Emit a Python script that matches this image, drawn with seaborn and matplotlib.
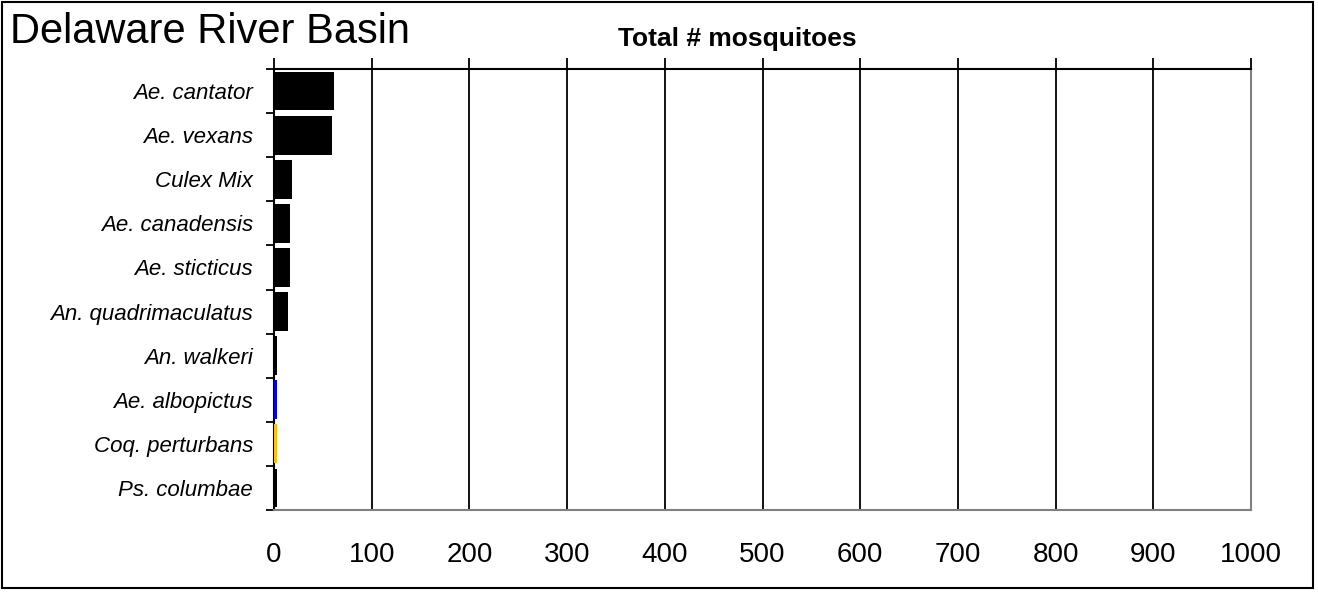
import matplotlib
matplotlib.use("Agg")
import matplotlib.pyplot as plt
import numpy as np
import pandas as pd
import seaborn as sns
from matplotlib.patches import Rectangle

species = [
    "Ae. cantator",
    "Ae. vexans",
    "Culex Mix",
    "Ae. canadensis",
    "Ae. sticticus",
    "An. quadrimaculatus",
    "An. walkeri",
    "Ae. albopictus",
    "Coq. perturbans",
    "Ps. columbae",
]
totals = [61, 59, 18, 16, 16, 14, 3, 3, 3, 3]
bar_colors = ["black"] * 7 + ["#0000EE", "#FFC000", "black"]
x_ticks = list(range(0, 1001, 100))

sns.set_theme(style="white")
plt.rcParams["font.family"] = ["Liberation Sans", "DejaVu Sans"]
plt.rcParams["text.color"] = "black"

df = pd.DataFrame({"species": species, "total": totals})

fig = plt.figure(figsize=(13.18, 5.92), dpi=100)
ax = fig.add_axes([274 / 1318, 1 - 510 / 592, (1251 - 274) / 1318, (510 - 69) / 592])

sns.barplot(
    data=df, x="total", y="species", hue="species", order=species,
    palette=bar_colors, legend=False, width=0.88, saturation=1,
    edgecolor="none", ax=ax, zorder=3,
)

ax.set_xlim(0, 1000)
ax.set_ylim(len(species) - 0.5, -0.5)
ax.set_xticks(x_ticks)
ax.set_xticklabels([str(t) for t in x_ticks], fontsize=20)
ax.tick_params(axis="x", top=True, bottom=False, labeltop=False, labelbottom=True,
               direction="out", length=8, width=1.3, color="black",
               labelcolor="black", pad=15)

# category labels at centres, tick marks at category boundaries
ax.set_yticks(np.arange(len(species)))
ax.set_yticklabels(species, fontsize=16, style="italic")
ax.set_yticks(np.arange(len(species) + 1) - 0.5, minor=True)
ax.tick_params(axis="y", which="major", left=True, length=0, pad=15, labelcolor="black")
ax.tick_params(axis="y", which="minor", left=True, direction="out",
               length=6, width=1.3, color="black")

ax.grid(axis="x", color="black", linewidth=1.3, zorder=1)
ax.grid(axis="y", visible=False)
ax.set_axisbelow(True)
ax.set_xlabel("")
ax.set_ylabel("")

for side in ["top", "left"]:
    ax.spines[side].set_color("black")
    ax.spines[side].set_linewidth(1.5)
for side in ["bottom", "right"]:
    ax.spines[side].set_color("#808080")
    ax.spines[side].set_linewidth(1.5)

fig.text(10 / 1318, 1 - 43 / 592, "Delaware River Basin", fontsize=30, va="baseline")
fig.text(618 / 1318, 1 - 46 / 592, "Total # mosquitoes", fontsize=19,
         fontweight="bold", va="baseline")

fig.patches.append(Rectangle((0.0015, 0.006), 0.995, 0.991, transform=fig.transFigure,
                             fill=False, edgecolor="black", linewidth=1.5))

fig.savefig("out.png", dpi=100)
